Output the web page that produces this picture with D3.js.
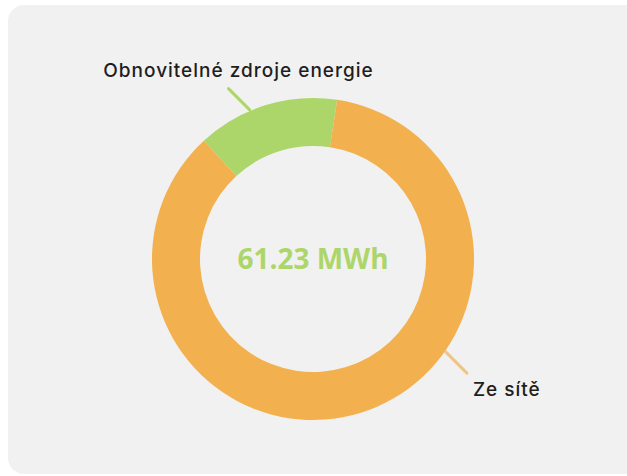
<!DOCTYPE html>
<html>
<head>
<meta charset="utf-8">
<script src="https://cdn.jsdelivr.net/npm/d3@7"></script>
<style>
  body { margin: 0; background: #fff; }
  svg { display: block; }
</style>
</head>
<body>
<div id="chart"></div>
<script>
// energy sources (MWh)
const labels = ["Obnovitelné zdroje energie", "Ze sítě"];
const values = [8.73, 52.50];
const colors = ["#add66a", "#f2b04f"];
const lineColors = ["#add66a", "#efc489"];
const totalLabel = "61.23 MWh";

const width = 627, height = 476;
const cx = 313, cy = 259;
const outerR = 161, innerR = 113;

const svg = d3.select('#chart').append('svg')
    .attr('width', width)
    .attr('height', height);

// card background
svg.append('rect')
    .attr('x', 8).attr('y', 5)
    .attr('width', 640).attr('height', 469)
    .attr('rx', 16)
    .attr('fill', '#f1f1f1');

const pie = d3.pie()
    .sort(null)
    .startAngle(-42.7 * Math.PI / 180)
    .endAngle((360 - 42.7) * Math.PI / 180);

const arcs = pie(values);

const arc = d3.arc()
    .innerRadius(innerR)
    .outerRadius(outerR);

const g = svg.append('g')
    .attr('transform', `translate(${cx},${cy})`);

g.selectAll('path')
    .data(arcs)
    .enter().append('path')
    .attr('d', arc)
    .attr('fill', (d, i) => colors[i]);

// leader lines: angle where the line leaves the ring (deg, clockwise from top)
const leaderAngle = [-23, 125];
const leaderLen = 30;

function polar(r, deg) {
    const a = deg * Math.PI / 180;
    return [r * Math.sin(a), -r * Math.cos(a)];
}

leaderAngle.forEach(function (deg, i) {
    const p0 = polar(outerR + 1, deg);
    const dx = Math.sign(p0[0]) * leaderLen / Math.SQRT2;
    const dy = Math.sign(p0[1]) * leaderLen / Math.SQRT2;
    const p1 = [p0[0] + dx, p0[1] + dy];
    g.append('line')
        .attr('x1', p0[0]).attr('y1', p0[1])
        .attr('x2', p1[0]).attr('y2', p1[1])
        .attr('stroke', lineColors[i])
        .attr('stroke-width', 3)
        .attr('stroke-linecap', 'round');

    const t = g.append('text')
        .text(labels[i])
        .attr('font-family', 'Inter, "Open Sans", sans-serif')
        .attr('font-size', 19)
        .attr('font-weight', 500)
        .attr('letter-spacing', 1)
        .attr('fill', '#1e1e1e');
    if (i === 0) {
        t.attr('x', p1[0] + 10).attr('y', p1[1] - 12)
         .attr('text-anchor', 'middle');
    } else {
        t.attr('x', p1[0] + 6).attr('y', p1[1] + 23)
         .attr('text-anchor', 'start');
    }
});

// total in the middle
g.append('text')
    .text(totalLabel)
    .attr('x', 0).attr('y', 0)
    .attr('dy', '0.35em')
    .attr('text-anchor', 'middle')
    .attr('font-family', '"Open Sans", Inter, sans-serif')
    .attr('font-size', 28)
    .attr('font-weight', 700)
    .attr('fill', '#add66a');
</script>
</body>
</html>
